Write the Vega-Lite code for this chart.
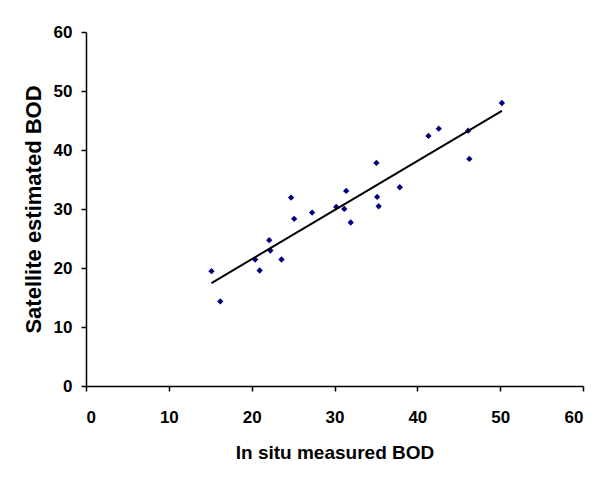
{
  "$schema": "https://vega.github.io/schema/vega-lite/v6.json",
  "width": 497,
  "height": 354,
  "autosize": "none",
  "padding": {"left": 86, "top": 32, "right": 17, "bottom": 94},
  "background": "white",
  "data": {
    "values": [
      {"insitu": 15.15, "satellite": 19.47},
      {"insitu": 16.21, "satellite": 14.33},
      {"insitu": 20.42, "satellite": 21.44},
      {"insitu": 20.97, "satellite": 19.58},
      {"insitu": 22.12, "satellite": 24.72},
      {"insitu": 22.26, "satellite": 22.97},
      {"insitu": 23.6, "satellite": 21.44},
      {"insitu": 24.76, "satellite": 31.94},
      {"insitu": 25.13, "satellite": 28.33},
      {"insitu": 27.3, "satellite": 29.4},
      {"insitu": 30.21, "satellite": 30.36},
      {"insitu": 31.18, "satellite": 30.02},
      {"insitu": 31.41, "satellite": 33.07},
      {"insitu": 31.96, "satellite": 27.71},
      {"insitu": 35.06, "satellite": 37.81},
      {"insitu": 35.15, "satellite": 32.05},
      {"insitu": 35.33, "satellite": 30.47},
      {"insitu": 37.88, "satellite": 33.69},
      {"insitu": 41.34, "satellite": 42.38},
      {"insitu": 42.59, "satellite": 43.62},
      {"insitu": 46.14, "satellite": 43.28},
      {"insitu": 46.28, "satellite": 38.49},
      {"insitu": 50.21, "satellite": 47.97}
    ]
  },
  "encoding": {
    "x": {
      "field": "insitu",
      "type": "quantitative",
      "scale": {"domain": [0, 60], "nice": false},
      "axis": {
        "title": "In situ measured BOD",
        "values": [0, 10, 20, 30, 40, 50, 60],
        "grid": false,
        "tickSize": 5,
        "labelPadding": 18,
        "titlePadding": 18,
        "titleFontSize": 19,
        "labelFontSize": 17
      }
    },
    "y": {
      "field": "satellite",
      "type": "quantitative",
      "scale": {"domain": [0, 60], "nice": false},
      "axis": {
        "title": "Satellite estimated BOD",
        "values": [0, 10, 20, 30, 40, 50, 60],
        "grid": false,
        "tickSize": 5,
        "labelPadding": 9,
        "titlePadding": 8,
        "titleFontSize": 22,
        "labelFontSize": 17
      }
    }
  },
  "layer": [
    {
      "mark": {"type": "point", "shape": "diamond", "filled": true, "size": 40, "color": "#000080", "opacity": 1}
    },
    {
      "transform": [{"regression": "satellite", "on": "insitu"}],
      "mark": {"type": "line", "color": "black", "strokeWidth": 2}
    }
  ],
  "config": {
    "view": {"stroke": null},
    "axis": {
      "domainColor": "black",
      "domainWidth": 1.5,
      "tickColor": "black",
      "tickWidth": 1.5,
      "labelColor": "black",
      "titleColor": "black",
      "labelFont": "Liberation Sans",
      "titleFont": "Liberation Sans",
      "labelFontWeight": "bold",
      "titleFontWeight": "bold"
    }
  }
}
